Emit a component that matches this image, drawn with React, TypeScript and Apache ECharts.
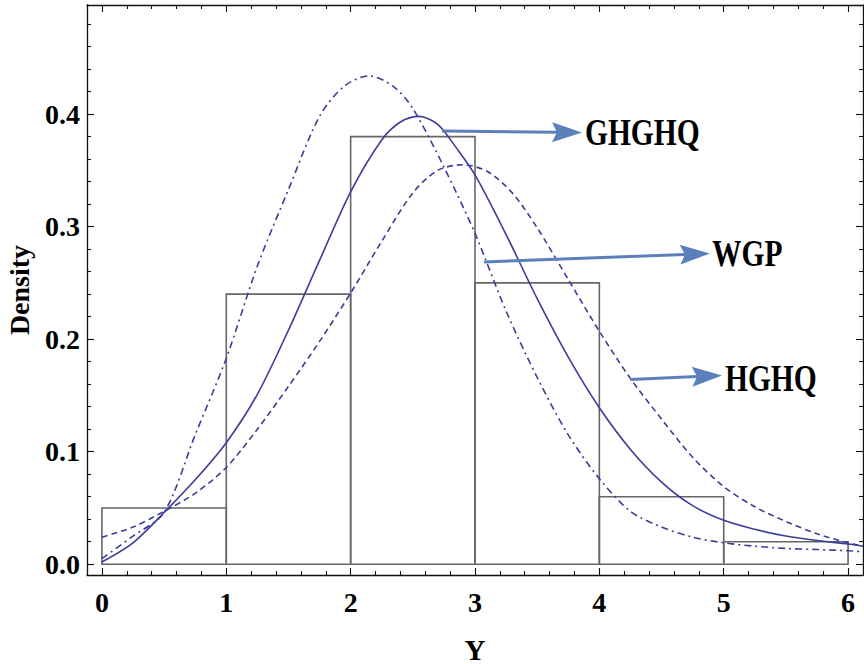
import React, { useEffect, useRef } from "react";
import * as echarts from "echarts";

// Histogram bins
const binStarts = [0, 1, 2, 3, 4, 5];
const binEnds = [1, 2, 3, 4, 5, 6];
const densities = [0.05, 0.24, 0.38, 0.25, 0.06, 0.02];

// Fitted density curves
const ghghqX = [0, 0.25, 0.5, 0.75, 1, 1.25, 1.5, 1.75, 2, 2.25, 2.4, 2.55, 2.7, 2.85, 3, 3.25, 3.5, 3.75, 4, 4.25, 4.5, 4.75, 5, 5.25, 5.5, 5.75, 6, 6.12];
const ghghqY = [0.002, 0.019, 0.046, 0.075, 0.108, 0.151, 0.208, 0.27, 0.331, 0.377, 0.393, 0.398, 0.391, 0.37, 0.346, 0.293, 0.236, 0.184, 0.139, 0.102, 0.073, 0.052, 0.039, 0.031, 0.025, 0.021, 0.018, 0.016];

const wgpX = [0, 0.25, 0.5, 0.75, 1, 1.25, 1.5, 1.75, 1.95, 2.15, 2.35, 2.5, 2.75, 3, 3.25, 3.5, 3.75, 4, 4.25, 4.5, 4.75, 5, 5.25, 5.5, 5.75, 6, 6.12];
const wgpY = [0.005, 0.025, 0.046, 0.115, 0.183, 0.265, 0.333, 0.398, 0.425, 0.434, 0.424, 0.405, 0.353, 0.294, 0.225, 0.166, 0.115, 0.076, 0.047, 0.033, 0.024, 0.019, 0.016, 0.014, 0.013, 0.012, 0.011];

const hghqX = [0, 0.25, 0.5, 0.75, 1, 1.25, 1.5, 1.75, 2, 2.25, 2.5, 2.7, 2.9, 3.1, 3.3, 3.5, 3.75, 4, 4.25, 4.5, 4.75, 5, 5.25, 5.5, 5.75, 6, 6.12];
const hghqY = [0.024, 0.033, 0.047, 0.063, 0.086, 0.12, 0.158, 0.198, 0.241, 0.287, 0.33, 0.35, 0.355, 0.349, 0.33, 0.299, 0.253, 0.207, 0.165, 0.129, 0.095, 0.069, 0.051, 0.038, 0.027, 0.019, 0.016];

// Ticks
const xMajor = [0, 1, 2, 3, 4, 5, 6];
const xMinor = [0.2, 0.4, 0.6, 0.8, 1.2, 1.4, 1.6, 1.8, 2.2, 2.4, 2.6, 2.8, 3.2, 3.4, 3.6, 3.8, 4.2, 4.4, 4.6, 4.8, 5.2, 5.4, 5.6, 5.8];
const yMajor = [0, 0.1, 0.2, 0.3, 0.4];
const yMinor = [0.02, 0.04, 0.06, 0.08, 0.12, 0.14, 0.16, 0.18, 0.22, 0.24, 0.26, 0.28, 0.32, 0.34, 0.36, 0.38, 0.42, 0.44, 0.46, 0.48];

const X_MIN = -0.12;
const X_MAX = 6.12;
const Y_MIN = -0.0096;
const Y_MAX = 0.497;

const FONT = "'Liberation Serif', 'Times New Roman', serif";
const CURVE = "#3d3d99";
const ARROW = "#5b80bb";

function pairs(xs: number[], ys: number[]) {
  return xs.map((x, i) => [x, ys[i]]);
}

function makeXAxis(position: "bottom" | "top", values: number[], len: number, withLine: boolean, withLabels: boolean) {
  return {
    type: "value",
    position,
    min: X_MIN,
    max: X_MAX,
    splitLine: { show: false },
    axisLine: { show: withLine, onZero: false, lineStyle: { color: "#111", width: 1.3 } },
    axisTick: { show: true, inside: true, length: len, customValues: values, lineStyle: { color: "#111", width: 1.1 } },
    axisLabel: withLabels
      ? { show: true, customValues: values, margin: 13, fontFamily: FONT, fontWeight: "bold", fontSize: 28, color: "#000", formatter: (v: number) => String(Math.round(v)) }
      : { show: false },
    ...(withLabels
      ? { name: "Y", nameLocation: "middle", nameGap: 60, nameTextStyle: { fontFamily: FONT, fontWeight: "bold", fontSize: 29, color: "#000" } }
      : {}),
  };
}

function makeYAxis(position: "left" | "right", values: number[], len: number, withLine: boolean, withLabels: boolean) {
  return {
    type: "value",
    position,
    min: Y_MIN,
    max: Y_MAX,
    splitLine: { show: false },
    axisLine: { show: withLine, onZero: false, lineStyle: { color: "#111", width: 1.3 } },
    axisTick: { show: true, inside: true, length: len, customValues: values, lineStyle: { color: "#111", width: 1.1 } },
    axisLabel: withLabels
      ? { show: true, customValues: values, margin: 7, fontFamily: FONT, fontWeight: "bold", fontSize: 28, color: "#000", formatter: (v: number) => v.toFixed(1) }
      : { show: false },
    ...(withLabels
      ? { name: "Density", nameLocation: "middle", nameGap: 54, nameRotate: 90, nameTextStyle: { fontFamily: FONT, fontWeight: "bold", fontSize: 28, color: "#000" } }
      : {}),
  };
}

function arrow(x1: number, y1: number, x2: number, y2: number) {
  const dx = x2 - x1;
  const dy = y2 - y1;
  const L = Math.sqrt(dx * dx + dy * dy);
  const ux = dx / L;
  const uy = dy / L;
  const nx = -uy;
  const ny = ux;
  const headLen = 30;
  const half = 10;
  const notch = 5;
  const bx = x2 - ux * headLen;
  const by = y2 - uy * headLen;
  return [
    {
      type: "line",
      shape: { x1, y1, x2: bx + ux * notch, y2: by + uy * notch },
      style: { stroke: ARROW, lineWidth: 3 },
      z: 100,
    },
    {
      type: "polygon",
      shape: {
        points: [
          [x2, y2],
          [bx + nx * half, by + ny * half],
          [bx + ux * notch, by + uy * notch],
          [bx - nx * half, by - ny * half],
        ],
      },
      style: { fill: ARROW },
      z: 100,
    },
  ];
}

function label(text: string, x: number, y: number) {
  return {
    type: "text",
    x,
    y,
    scaleY: 1.27,
    style: { text, fontFamily: FONT, fontWeight: "bold", fontSize: 29.5, fill: "#000", verticalAlign: "middle", align: "left" },
    z: 100,
  };
}

export default function App() {
  const ref = useRef<HTMLDivElement>(null);
  useEffect(() => {
    if (!ref.current) return;
    const chart = echarts.init(ref.current, null, { renderer: "svg" });
    const bins = binStarts.map((s, i) => [s, binEnds[i], densities[i]]);
    const curveStyle = (type: any) => ({ color: CURVE, width: 1.6, type });
    const option = {
      animation: false,
      backgroundColor: "#fff",
      grid: { left: 87, right: 1, top: 5, bottom: 89, outerBoundsMode: "none", containLabel: false },
      xAxis: [
        makeXAxis("bottom", xMajor, 7, true, true),
        makeXAxis("bottom", xMinor, 4, false, false),
        makeXAxis("top", xMajor, 7, true, false),
        makeXAxis("top", xMinor, 4, false, false),
      ],
      yAxis: [
        makeYAxis("left", yMajor, 7, true, true),
        makeYAxis("left", yMinor, 4, false, false),
        makeYAxis("right", yMajor, 7, true, false),
        makeYAxis("right", yMinor, 4, false, false),
      ],
      series: [
        {
          type: "custom",
          name: "Histogram",
          xAxisIndex: 0,
          yAxisIndex: 0,
          data: bins,
          encode: { x: [0, 1], y: 2 },
          renderItem: (params: any, api: any) => {
            const p0 = api.coord([api.value(0), api.value(2)]);
            const p1 = api.coord([api.value(1), 0]);
            return {
              type: "rect",
              shape: { x: p0[0], y: p0[1], width: p1[0] - p0[0], height: p1[1] - p0[1] },
              style: { fill: "none", stroke: "#666", lineWidth: 1.6 },
            };
          },
          z: 2,
        },
        {
          type: "line",
          name: "GHGHQ",
          xAxisIndex: 0,
          yAxisIndex: 0,
          data: pairs(ghghqX, ghghqY),
          smooth: 0.3,
          showSymbol: false,
          clip: false,
          lineStyle: curveStyle("solid"),
          z: 3,
        },
        {
          type: "line",
          name: "HGHQ",
          xAxisIndex: 0,
          yAxisIndex: 0,
          data: pairs(hghqX, hghqY),
          smooth: 0.3,
          showSymbol: false,
          clip: false,
          lineStyle: curveStyle([6, 4]),
          z: 3,
        },
        {
          type: "line",
          name: "WGP",
          xAxisIndex: 0,
          yAxisIndex: 0,
          data: pairs(wgpX, wgpY),
          smooth: 0.3,
          showSymbol: false,
          clip: false,
          lineStyle: curveStyle([7, 4, 2, 4]),
          z: 3,
        },
      ],
      graphic: [
        ...arrow(442, 131, 582, 132.5),
        label("GHGHQ", 585, 132),
        ...arrow(484, 262, 710, 253.5),
        label("WGP", 712, 253),
        ...arrow(630, 379.5, 722, 375.5),
        label("HGHQ", 725, 378),
      ],
    };
    chart.setOption(option as any);
    return () => {
      chart.dispose();
    };
  }, []);
  return (
    <div
      ref={ref}
      style={{ position: "fixed", left: 0, top: 0, width: 864, height: 664, background: "#fff" }}
    />
  );
}
